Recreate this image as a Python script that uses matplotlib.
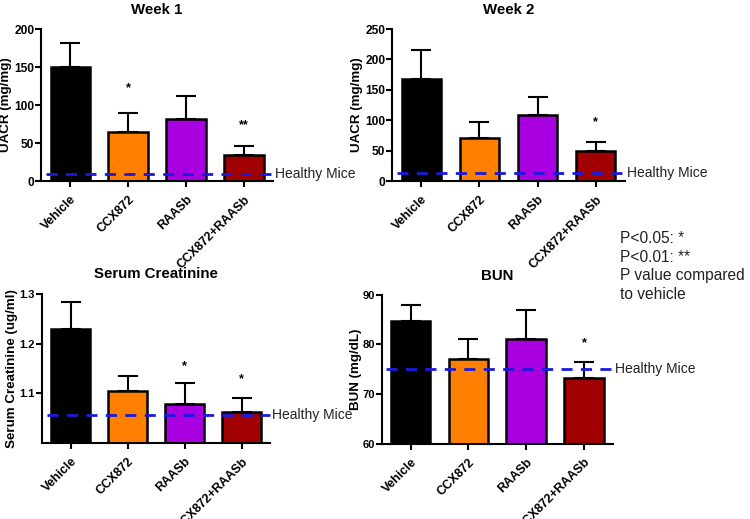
import numpy as np
import matplotlib
matplotlib.use("Agg")
import matplotlib.pyplot as plt
import matplotlib.transforms as mtransforms

plt.rcParams["font.family"] = ["Liberation Sans", "DejaVu Sans"]

groups = ["Vehicle", "CCX872", "RAASb", "CCX872+RAASb"]
colors = ["#000000", "#ff8000", "#a800e0", "#a00000"]

# Week 1 UACR
wk1_mean = [150, 65, 82, 35]
wk1_err = [32, 24, 30, 11]
wk1_stars = ["", "*", "", "**"]
wk1_star_y = [0, 122, 0, 74]
wk1_healthy = 10

# Week 2 UACR
wk2_mean = [168, 71, 108, 50]
wk2_err = [48, 26, 31, 14]
wk2_stars = ["", "", "", "*"]
wk2_star_y = [0, 0, 0, 97]
wk2_healthy = 14

# serum creatinine
scr_mean = [1.230, 1.105, 1.078, 1.062]
scr_err = [0.053, 0.029, 0.042, 0.028]
scr_stars = ["", "", "*", "*"]
scr_star_y = [0, 0, 1.155, 1.129]
scr_healthy = 1.057

# BUN
bun_mean = [84.7, 77.0, 81.0, 73.2]
bun_err = [3.3, 4.0, 6.0, 3.3]
bun_stars = ["", "", "", "*"]
bun_star_y = [0, 0, 0, 80.3]
bun_healthy = 75

fig = plt.figure(figsize=(7.5, 5.19), dpi=100)


def panel(rect, title, ylabel, labx, mean, err, stars, star_y, healthy, ylim, yticks, ytl,
          ytfs=9):
    ax = fig.add_axes(rect)
    x = np.arange(len(groups))
    ax.bar(x, mean, width=0.68, color=colors, edgecolor="black", linewidth=1.8, zorder=2)
    ax.errorbar(x, mean, yerr=[np.zeros(len(err)), err], fmt="none", ecolor="black",
                elinewidth=1.5, capsize=7, capthick=1.5, zorder=3)
    for xi, s, sy in zip(x, stars, star_y):
        if s:
            ax.text(xi, sy, s, ha="center", va="center", fontsize=9, fontweight="bold")
    ax.axhline(healthy, xmin=0.02, xmax=1.0, color="#1a1adc", linestyle=(0, (4, 3)),
               linewidth=2, zorder=4, clip_on=False)
    trans = mtransforms.blended_transform_factory(ax.transAxes, ax.transData)
    ax.text(1.01, healthy, "Healthy Mice", transform=trans, ha="left", va="center",
            fontsize=10, color="#222222")
    ax.set_xlim(-0.5, 3.5)
    ax.set_ylim(*ylim)
    ax.set_yticks(yticks)
    ax.set_yticklabels(ytl, fontweight="bold", fontsize=ytfs)
    ax.set_xticks(x)
    ax.set_xticklabels(groups, rotation=45, ha="right", rotation_mode="anchor",
                       fontweight="bold", fontsize=9)
    ax.set_ylabel(ylabel, fontweight="bold", fontsize=9.6)
    ax.yaxis.set_label_coords(labx, 0.5)
    ax.set_title(title, fontweight="bold", fontsize=10.8, pad=11)
    for sp in ["top", "right"]:
        ax.spines[sp].set_visible(False)
    for sp in ["left", "bottom"]:
        ax.spines[sp].set_linewidth(1.5)
    ax.tick_params(width=1.5, length=4)
    ax.tick_params(axis="x", pad=5)
    ax.tick_params(axis="y", pad=1)
    return ax


panel([0.055, 0.651, 0.309, 0.293], "Week 1", "UACR (mg/mg)", -0.125, wk1_mean, wk1_err,
      wk1_stars, wk1_star_y, wk1_healthy, (0, 200), [0, 50, 100, 150, 200],
      ["0", "50", "100", "150", "200"], ytfs=8.6)
panel([0.523, 0.651, 0.310, 0.293], "Week 2", "UACR (mg/mg)", -0.125, wk2_mean, wk2_err,
      wk2_stars, wk2_star_y, wk2_healthy, (0, 250), [0, 50, 100, 150, 200, 250],
      ["0", "50", "100", "150", "200", "250"], ytfs=8.6)
panel([0.056, 0.146, 0.304, 0.288], "Serum Creatinine", "Serum Creatinine (ug/ml)", -0.105,
      scr_mean, scr_err, scr_stars, scr_star_y, scr_healthy, (1.0, 1.3),
      [1.1, 1.2, 1.3], ["1.1", "1.2", "1.3"], ytfs=8)
panel([0.509, 0.145, 0.308, 0.287], "BUN", "BUN (mg/dL)", -0.085, bun_mean, bun_err,
      bun_stars, bun_star_y, bun_healthy, (60, 90), [60, 70, 80, 90],
      ["60", "70", "80", "90"], ytfs=8)

note = "P<0.05: *\nP<0.01: **\nP value compared\nto vehicle"
fig.text(0.827, 0.555, note, ha="left", va="top", fontsize=11.2, color="#222222",
         linespacing=1.3)

fig.savefig("out.png", dpi=100)
